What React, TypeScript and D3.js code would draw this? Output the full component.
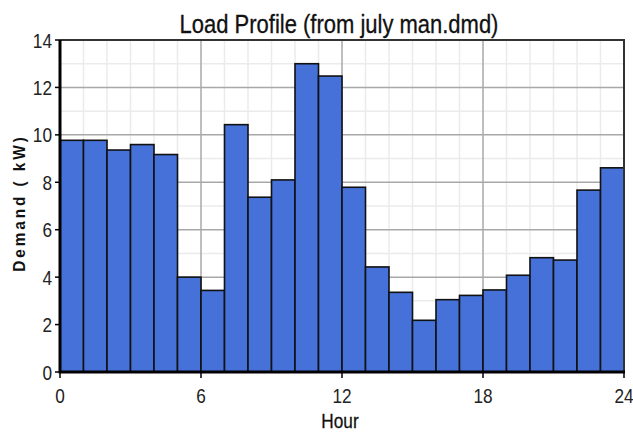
import { useEffect, useRef } from "react";
import * as d3 from "d3";

// hourly demand (kW), hour 0..23
const hours = d3.range(24);
const demand = [
  9.77, 9.77, 9.36, 9.59, 9.17, 4.0, 3.44, 10.43, 7.37, 8.1, 13.0, 12.48,
  7.79, 4.43, 3.36, 2.18, 3.05, 3.23, 3.46, 4.08, 4.82, 4.72, 7.67, 8.61,
];
const xTicks = [0, 6, 12, 18, 24];
const yTicks = [0, 2, 4, 6, 8, 10, 12, 14];

const W = 633;
const H = 432;
const FONT = "'Liberation Sans', Arial, sans-serif";
// the original uses a narrow face; squeeze Liberation Sans horizontally
const NARROW = 0.82;

export default function App() {
  const svgRef = useRef<SVGSVGElement>(null);

  useEffect(() => {
    if (!svgRef.current) return;
    const margin = { top: 40, right: 9, bottom: 60, left: 60 };

    const svg = d3.select(svgRef.current);
    svg.selectAll("*").remove();

    const x = d3.scaleLinear().domain([0, 24]).range([margin.left, W - margin.right]);
    const y = d3.scaleLinear().domain([0, 14]).range([H - margin.bottom, margin.top]);

    const g = svg.append("g");
    const at = (px: number, py: number, sx = NARROW) =>
      `translate(${px},${py}) scale(${sx},1)`;

    // minor grid
    g.append("g")
      .selectAll("line")
      .data(d3.range(1, 24).filter((h) => h % 6 !== 0))
      .enter()
      .append("line")
      .attr("x1", (d) => x(d))
      .attr("x2", (d) => x(d))
      .attr("y1", y(14))
      .attr("y2", y(0))
      .style("stroke", "#ebebeb")
      .style("stroke-width", "1.5px");

    g.append("g")
      .selectAll("line")
      .data(d3.range(1, 14, 2))
      .enter()
      .append("line")
      .attr("x1", x(0))
      .attr("x2", x(24))
      .attr("y1", (d) => y(d))
      .attr("y2", (d) => y(d))
      .style("stroke", "#ebebeb")
      .style("stroke-width", "1.5px");

    // major grid
    g.append("g")
      .selectAll("line")
      .data([6, 12, 18])
      .enter()
      .append("line")
      .attr("x1", (d) => x(d))
      .attr("x2", (d) => x(d))
      .attr("y1", y(14))
      .attr("y2", y(0))
      .style("stroke", "#a8a8a8")
      .style("stroke-width", "1.5px");

    g.append("g")
      .selectAll("line")
      .data([2, 4, 6, 8, 10, 12])
      .enter()
      .append("line")
      .attr("x1", x(0))
      .attr("x2", x(24))
      .attr("y1", (d) => y(d))
      .attr("y2", (d) => y(d))
      .style("stroke", "#a8a8a8")
      .style("stroke-width", "1.5px");

    // bars
    g.append("g")
      .selectAll("rect")
      .data(hours)
      .enter()
      .append("rect")
      .attr("x", (d) => x(d))
      .attr("width", (d) => x(d + 1) - x(d))
      .attr("y", (d) => y(demand[d]))
      .attr("height", (d) => y(0) - y(demand[d]))
      .style("fill", "#4571d9")
      .style("stroke", "#111")
      .style("stroke-width", "1.6px");

    // frame: thin top/right, heavy left/bottom
    g.append("path")
      .attr("d", `M${x(0)},${y(14)}H${x(24)}V${y(0)}`)
      .style("fill", "none")
      .style("stroke", "#333")
      .style("stroke-width", "2px");

    g.append("path")
      .attr("d", `M${x(0)},${y(14)}V${y(0)}H${x(24) + 1}`)
      .style("fill", "none")
      .style("stroke", "#000")
      .style("stroke-width", "3px");

    // ticks
    g.append("g")
      .selectAll("line")
      .data(yTicks)
      .enter()
      .append("line")
      .attr("x1", x(0) - 5)
      .attr("x2", x(0))
      .attr("y1", (d) => y(d))
      .attr("y2", (d) => y(d))
      .style("stroke", "#000")
      .style("stroke-width", "1.5px");

    g.append("g")
      .selectAll("line")
      .data(xTicks)
      .enter()
      .append("line")
      .attr("x1", (d) => x(d))
      .attr("x2", (d) => x(d))
      .attr("y1", y(0))
      .attr("y2", y(0) + 6)
      .style("stroke", "#000")
      .style("stroke-width", "1.5px");

    // tick labels
    g.append("g")
      .selectAll("text")
      .data(yTicks)
      .enter()
      .append("text")
      .attr("transform", (d) => at(x(0) - 8, y(d)))
      .attr("dy", "0.36em")
      .attr("text-anchor", "end")
      .style("font-family", FONT)
      .style("font-size", "21px")
      .style("fill", "#222")
      .text((d) => d);

    g.append("g")
      .selectAll("text")
      .data(xTicks)
      .enter()
      .append("text")
      .attr("transform", (d) => at(x(d), 403))
      .attr("text-anchor", "middle")
      .style("font-family", FONT)
      .style("font-size", "21px")
      .style("fill", "#222")
      .text((d) => d);

    // titles
    g.append("text")
      .attr("transform", at(339, 33, 0.88))
      .attr("text-anchor", "middle")
      .style("font-family", FONT)
      .style("font-size", "25px")
      .style("font-weight", "500")
      .style("stroke", "#111")
      .style("stroke-width", "0.3px")
      .style("fill", "#111")
      .text("Load Profile (from july man.dmd)");

    g.append("text")
      .attr("transform", at(340, 428))
      .attr("text-anchor", "middle")
      .style("font-family", FONT)
      .style("font-size", "21px")
      .style("stroke", "#111")
      .style("stroke-width", "0.3px")
      .style("fill", "#111")
      .text("Hour");

    g.append("text")
      .attr("transform", "translate(25,203) rotate(-90) scale(0.9,1)")
      .attr("text-anchor", "middle")
      .style("font-family", FONT)
      .style("font-size", "17px")
      .style("font-weight", "bold")
      .style("letter-spacing", "3.3px")
      .style("fill", "#111")
      .text("Demand ( kW)");
  }, []);

  return (
    <div style={{ position: "absolute", left: 0, top: 0 }}>
      <svg ref={svgRef} width={W} height={H} style={{ display: "block", background: "#fff" }} />
    </div>
  );
}
